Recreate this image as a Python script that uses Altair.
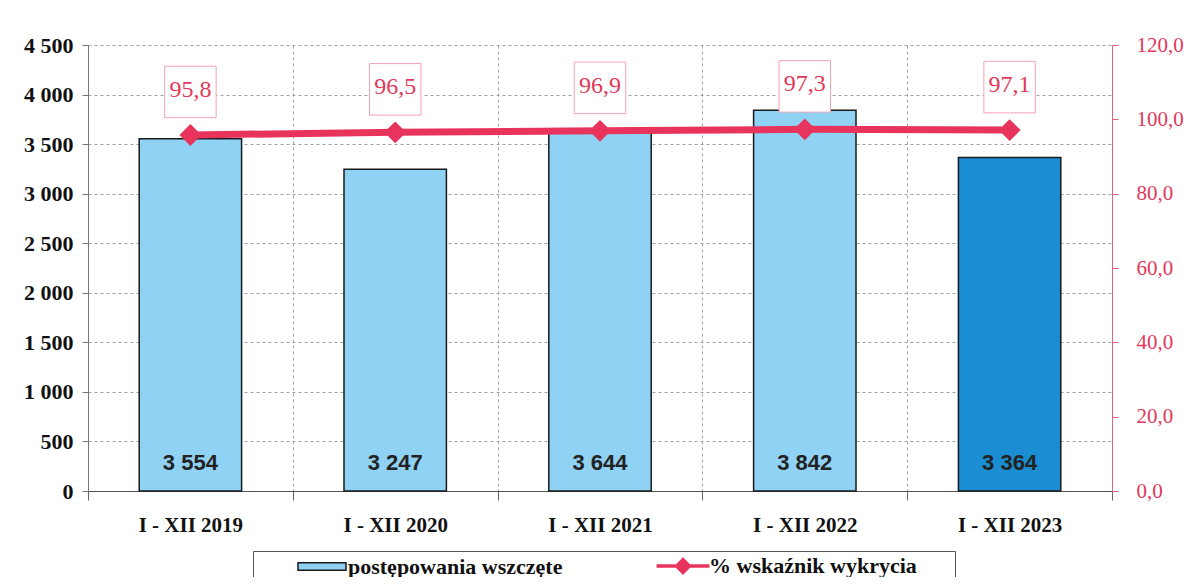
import altair as alt
import pandas as pd

years = ["I - XII 2019", "I - XII 2020", "I - XII 2021", "I - XII 2022", "I - XII 2023"]
counts = [3554, 3247, 3644, 3842, 3364]
pct = [95.8, 96.5, 96.9, 97.3, 97.1]
left_ticks = [0, 500, 1000, 1500, 2000, 2500, 3000, 3500, 4000, 4500]
right_ticks = [0, 20, 40, 60, 80, 100, 120]
bar_name = "postępowania wszczęte"
line_name = "% wskaźnik wykrycia"

LIGHT = "#8fd2f4"
DARK = "#1b8ed3"
RED = "#e8345c"
RED_TXT = "#e2385a"
PINK_BOX = "#f0a3b3"
GRID = "#a0a0b0"

df = pd.DataFrame({"year": years, "count": counts, "pct": pct,
                   "s_bar": [bar_name] * 5, "s_line": [line_name] * 5})

x_enc = alt.X("year:N", sort=years, title=None,
              scale=alt.Scale(paddingInner=0, paddingOuter=0),
              axis=alt.Axis(tickBand="extent", grid=True, gridDash=[3, 3], gridColor=GRID,
                            tickSize=9, tickColor="#666", domainColor="#555",
                            labelFont="Liberation Serif", labelFontWeight="bold",
                            labelFontSize=21, labelColor="#111", labelPadding=14,
                            labelAngle=0))

fill_scale = alt.Scale(domain=[bar_name, line_name], range=[LIGHT, RED])

rect_path = "M-3,-0.47L3,-0.47L3,0.47L-3,0.47Z"
line_path = ("M-3.3,-0.22L-0.88,-0.22L0,-1.1L0.88,-0.22L3.3,-0.22L3.3,0.22"
             "L0.88,0.22L0,1.1L-0.88,0.22L-3.3,0.22Z")

legend = alt.Legend(
    orient="none", legendX=165, legendY=506, direction="horizontal",
    title="MM", titleOrient="right", titleOpacity=0, titleFontSize=18, titlePadding=4,
    symbolSize=256, symbolOffset=54, labelOffset=15,
    symbolType={"expr": f"datum.value === '{bar_name}' ? '{rect_path}' : '{line_path}'"},
    symbolStrokeColor={"expr": f"datum.value === '{bar_name}' ? '#1a1a1a' : 'transparent'"},
    symbolStrokeWidth=1.5, symbolOpacity=1,
    labelFont="Liberation Serif", labelFontSize=22, labelFontWeight="bold",
    labelColor="#111", labelLimit=500, columnPadding=55, padding=4,
    strokeColor="#555", fillColor="white")

y_left = alt.Y("count:Q", title=None, scale=alt.Scale(domain=[0, 4500]),
               axis=alt.Axis(values=left_ticks, grid=True, gridDash=[3, 3], gridColor=GRID,
                             labelExpr="replace(format(datum.value, ','), ',', ' ')",
                             tickSize=6, labelPadding=9, tickColor="#777", domainColor="#777",
                             labelFont="Liberation Serif", labelFontWeight="bold",
                             labelFontSize=22, labelColor="#111"))

bars = alt.Chart().mark_bar(width={"band": 0.5}, stroke="#1a1a1a", strokeWidth=1.5).encode(
    fill=alt.condition(alt.datum.year == "I - XII 2023", alt.value(DARK),
                       alt.Fill("s_bar:N", scale=fill_scale, legend=legend))
)
bar_text = alt.Chart().transform_calculate(
    lab="replace(format(datum.count, ','), ',', ' ')"
).mark_text(font="Liberation Sans", fontWeight="bold", fontSize=22, color="#222",
            baseline="middle", dy=-28).encode(y=alt.datum(0), text="lab:N")

left = alt.layer(bars, bar_text).encode(x=x_enc, y=y_left)

y_right = alt.Y("pct:Q", title=None, scale=alt.Scale(domain=[0, 120]),
                axis=alt.Axis(orient="right", values=right_ticks, grid=False,
                              labelExpr="replace(format(datum.value, '.1f'), '.', ',')",
                              tickSize=6, labelPadding=18, tickColor="#e2607a",
                              domainColor="#e2607a", labelFont="Liberation Serif",
                              labelFontSize=21, labelColor=RED_TXT))

line = alt.Chart().mark_line(color=RED, strokeWidth=7).encode()
points = alt.Chart().mark_point(shape="diamond", filled=True, size=480, opacity=1).encode(
    fill=alt.Fill("s_line:N", scale=fill_scale, legend=legend))
boxes = alt.Chart().mark_square(size=2650, fill="white", stroke=PINK_BOX, strokeWidth=1,
                                opacity=1, yOffset=-43).encode()
pct_text = alt.Chart().transform_calculate(
    lab="replace(format(datum.pct, '.1f'), '.', ',')"
).mark_text(font="Liberation Serif", fontSize=24, color=RED_TXT, baseline="middle",
            dy=-45).encode(text="lab:N")

right = alt.layer(line, points, boxes, pct_text).encode(x=x_enc, y=y_right)

chart = alt.layer(left, right, data=df).resolve_scale(y="independent").properties(
    width=1024, height=446,
    autosize=alt.AutoSizeParams(type="none"),
    padding={"left": 80, "top": 37, "right": 78, "bottom": 86},
).configure_view(strokeWidth=0).configure_legend(
    labelFont="Liberation Serif", labelFontWeight="bold", labelFontSize=22
)

chart.save("out.html", embed_options={"renderer": "svg", "actions": False})
